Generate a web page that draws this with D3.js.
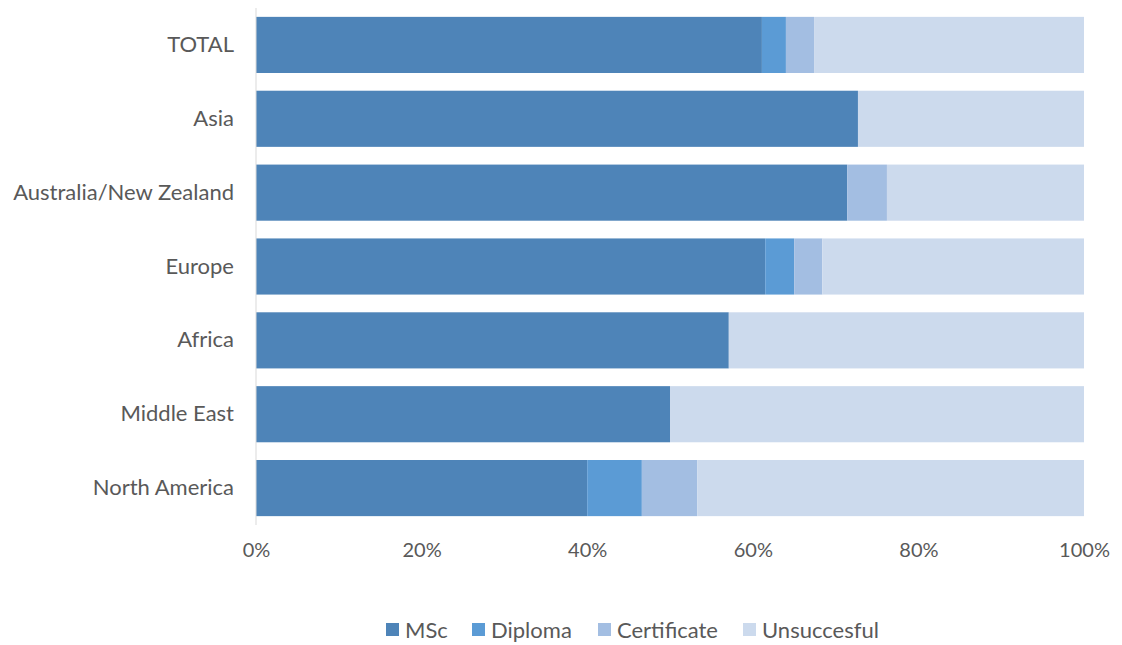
<!DOCTYPE html>
<html><head><meta charset="utf-8">
<script src="https://cdn.jsdelivr.net/npm/d3@7"></script>
<style>body{margin:0;background:#fff}text{font-family:Lato,"Open Sans",sans-serif;fill:#595959}</style>
</head><body><svg id="c" width="1122" height="645"></svg>
<script>
const categories = ["TOTAL","Asia","Australia/New Zealand","Europe","Africa","Middle East","North America"];
const seriesNames = ["MSc","Diploma","Certificate","Unsuccesful"];
const msc =          [61.1, 72.7, 71.4, 61.5, 57.1, 50.0, 40.0];
const diploma =      [ 2.9,  0.0,  0.0,  3.5,  0.0,  0.0,  6.6];
const certificate =  [ 3.4,  0.0,  4.8,  3.4,  0.0,  0.0,  6.7];
const unsuccessful = [32.6, 27.3, 23.8, 31.6, 42.9, 50.0, 46.7];
const tickValues = [0, 0.2, 0.4, 0.6, 0.8, 1.0];
const colors = ["#4E84B8", "#5B9BD5", "#A3BEE2", "#CCDAED"];

const svg = d3.select("#c");
const x = d3.scaleLinear().domain([0, 1]).range([256, 1084]);
const y = d3.scaleBand().domain(categories).range([8, 525]).paddingInner(0.24).paddingOuter(0.12);

const rows = categories.map((c, i) => {
  const vals = [msc[i], diploma[i], certificate[i], unsuccessful[i]];
  const tot = d3.sum(vals);
  const o = {cat: c};
  seriesNames.forEach((s, j) => o[s] = vals[j] / tot);
  return o;
});
const stack = d3.stack().keys(seriesNames)(rows);

svg.append("g").selectAll("g").data(stack).join("g")
  .attr("fill", (d, i) => colors[i])
  .selectAll("rect").data(d => d).join("rect")
  .attr("x", d => x(d[0]))
  .attr("width", d => Math.max(0, x(d[1]) - x(d[0])))
  .attr("y", d => y(d.data.cat))
  .attr("height", y.bandwidth());

svg.append("line").attr("x1", x(0)).attr("x2", x(0)).attr("y1", 8).attr("y2", 525)
  .attr("stroke", "#d9d9d9").attr("stroke-width", 1);

const yAxis = d3.axisLeft(y).tickSize(0).tickPadding(22);
const gy = svg.append("g").attr("transform", `translate(${x(0)},0)`).call(yAxis);
gy.select(".domain").remove();
gy.selectAll("text").style("font-size", "22px").attr("fill", "#595959");

const xAxis = d3.axisBottom(x).tickValues(tickValues).tickFormat(d3.format(".0%")).tickSize(0).tickPadding(0);
const gx = svg.append("g").attr("transform", `translate(0,543)`).call(xAxis);
gx.select(".domain").remove();
gx.selectAll("text").style("font-size", "20px").attr("fill", "#595959");

const legendX = [386, 472, 598, 743];
const lg = svg.append("g");
seriesNames.forEach((s, i) => {
  lg.append("rect").attr("x", legendX[i]).attr("y", 623).attr("width", 13).attr("height", 13).attr("fill", colors[i]);
  lg.append("text").attr("x", legendX[i] + 19).attr("y", 630).attr("dy", "0.35em")
    .style("font-size", "22px").text(s);
});
</script></body></html>
